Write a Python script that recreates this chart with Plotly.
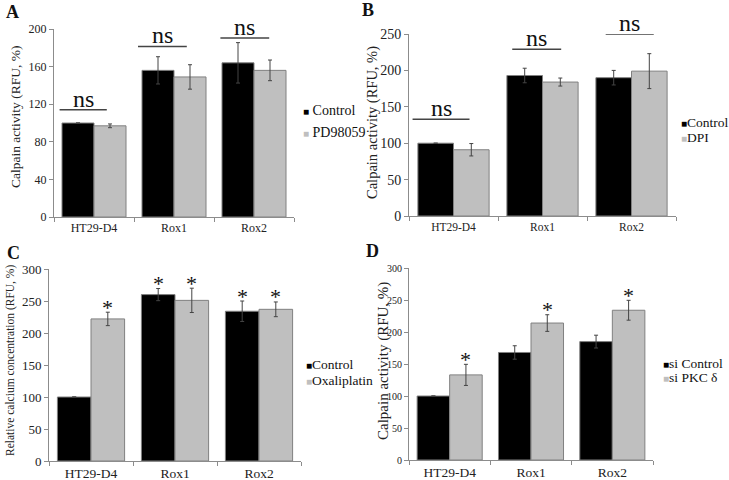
import plotly.graph_objects as go

categories = ["HT29-D4", "Rox1", "Rox2"]

# Panel A
a_control = [100, 156, 164]
a_control_err = [0, 14.5, 21.5]
a_treat = [97, 149, 156]
a_treat_err = [2, 13, 11]
a_ns_y = [114, 181.5, 190.5]
a_names = ["Control", "PD98059"]

# Panel B
b_control = [100, 193, 190]
b_control_err = [0, 10, 10]
b_treat = [91, 184, 199]
b_treat_err = [8.5, 5.5, 24]
b_ns_y = [133, 229, 250]
b_names = ["Control", "DPI"]

# Panel C
c_control = [100, 260, 234]
c_control_err = [0, 9.5, 16]
c_treat = [222, 251, 237]
c_treat_err = [10.5, 19, 11.5]
c_star_control = [False, True, True]
c_star_treat = [True, True, True]
c_names = ["Control", "Oxaliplatin"]

# Panel D
d_control = [100, 168, 185]
d_control_err = [0, 10.5, 10]
d_treat = [133, 214, 234]
d_treat_err = [16.5, 13, 15.5]
d_star_control = [False, False, False]
d_star_treat = [True, True, True]
d_names = ["si Control", "si PKC δ"]

W, H = 729, 480
FONT = "Liberation Serif"
BLACK = "#000000"
GREY = "#bfbfbf"
AXC = "#8c8c8c"


def px_x(p):
    return p / W


def px_y(p):
    return 1 - p / H


panels = [
    dict(key="", ctrl=a_control, ce=a_control_err, trt=a_treat, te=a_treat_err,
         names=a_names, dom=(54, 294, 29, 217), rng=[0, 200], dtick=40,
         title="Calpain activity (RFU, %)", tfs=13.5, tpos=(15, 117), tickfs=12, catfs=12,
         letter="A", lpos=(12, 12), leg=(301, 111, 21), legfs=14, sep=" "),
    dict(key="2", ctrl=b_control, ce=b_control_err, trt=b_treat, te=b_treat_err,
         names=b_names, dom=(409, 676, 34, 216), rng=[0, 250], dtick=50,
         title="Calpain activity (RFU, %)", tfs=14.5, tpos=(373, 123), tickfs=14, catfs=11.5,
         letter="B", lpos=(368, 10), leg=(679, 123, 14), legfs=13.5, sep=""),
    dict(key="3", ctrl=c_control, ce=c_control_err, trt=c_treat, te=c_treat_err,
         names=c_names, dom=(49, 301, 269, 461), rng=[0, 300], dtick=50,
         title="Relative calcium concentration (RFU, %)", tfs=11.5, tpos=(10, 361),
         tickfs=13, catfs=13.5,
         letter="C", lpos=(13, 253), leg=(304, 364, 16), legfs=13.5, sep=""),
    dict(key="4", ctrl=d_control, ce=d_control_err, trt=d_treat, te=d_treat_err,
         names=d_names, dom=(409, 653, 268, 460), rng=[0, 300], dtick=50,
         title="Calpain activity (RFU, %)", tfs=15, tpos=(383, 361), tickfs=10, catfs=13.5,
         letter="D", lpos=(372, 251), leg=(661, 363, 14), legfs=13.5, sep=""),
]

fig = go.Figure()
layout = dict(
    width=W, height=H, margin=dict(l=0, r=0, t=0, b=0),
    paper_bgcolor="white", plot_bgcolor="white",
    barmode="group", bargap=0.2, bargroupgap=0,
    showlegend=False, font=dict(family=FONT, color="#222"),
)
annotations = []
shapes = []

for p in panels:
    k = p["key"]
    xa, ya = "x" + k, "y" + k
    for vals, errs, name, col in [(p["ctrl"], p["ce"], p["names"][0], BLACK),
                                  (p["trt"], p["te"], p["names"][1], GREY)]:
        fig.add_trace(go.Bar(
            x=categories, y=vals, name=name, xaxis=xa, yaxis=ya,
            marker=dict(color=col, line=dict(color="#808080", width=1)),
            error_y=dict(type="data", array=errs, visible=True,
                         color="#444444", thickness=1, width=2),
        ))
    x0, x1, y0, y1 = p["dom"]
    layout["xaxis" + k] = dict(
        domain=[px_x(x0), px_x(x1)], anchor=ya, type="category", automargin=False,
        range=[-0.5, 2.5], showline=True, linecolor=AXC, linewidth=1,
        ticks="outside", tickson="boundaries", ticklen=4, tickcolor=AXC,
        showgrid=False, zeroline=False,
        tickfont=dict(family=FONT, size=p["catfs"], color="#222"),
    )
    layout["yaxis" + k] = dict(
        domain=[px_y(y1), px_y(y0)], anchor=xa, range=p["rng"], dtick=p["dtick"],
        automargin=False,
        showline=True, linecolor=AXC, linewidth=1, ticks="outside", ticklen=4,
        tickcolor=AXC, showgrid=False, zeroline=False,
        tickfont=dict(family=FONT, size=p["tickfs"], color="#222"),
    )
    # y-axis title
    annotations.append(dict(
        text=p["title"], x=px_x(p["tpos"][0]), y=px_y(p["tpos"][1]),
        xref="paper", yref="paper", showarrow=False, textangle=-90,
        xanchor="center", yanchor="middle",
        font=dict(family=FONT, size=p["tfs"], color="#222"),
    ))
    # panel letter
    annotations.append(dict(
        text="<b>%s</b>" % p["letter"], x=px_x(p["lpos"][0]), y=px_y(p["lpos"][1]),
        xref="paper", yref="paper", showarrow=False, xanchor="center", yanchor="middle",
        font=dict(family=FONT, size=18, color="#111"),
    ))
    # legend entries
    lx, ly, gap = p["leg"]
    for i, (name, col) in enumerate(zip(p["names"], [BLACK, GREY])):
        annotations.append(dict(
            text="<span style='color:%s;font-size:10px'>■</span>%s%s" % (col, p["sep"], name),
            x=px_x(lx), y=px_y(ly + i * gap), xref="paper", yref="paper",
            showarrow=False, xanchor="left", yanchor="middle",
            font=dict(family=FONT, size=p["legfs"], color="#111"),
        ))

# ns annotations (panels A and B)
ns_spans = {
    "": [(-0.43, 0.16), (-0.45, 0.16), (-0.42, 0.19)],
    "2": [(-0.46, 0.18), (-0.34, 0.21), (-0.29, 0.25)],
}
for k, ys in [("", a_ns_y), ("2", b_ns_y)]:
    for i, yv in enumerate(ys):
        s0, s1 = ns_spans[k][i]
        shapes.append(dict(type="line", xref="x" + k, yref="y" + k,
                           x0=i + s0, x1=i + s1, y0=yv, y1=yv,
                           line=dict(color="#444444", width=1.5)))
        annotations.append(dict(
            text="ns", x=i + (s0 + s1) / 2, y=yv, xref="x" + k, yref="y" + k,
            showarrow=False, yanchor="bottom", yshift=-4,
            font=dict(family=FONT, size=24, color="#111"),
        ))

# asterisks (panels C and D)
for k, ctrl, ce, trt, te, sc, st in [
        ("3", c_control, c_control_err, c_treat, c_treat_err, c_star_control, c_star_treat),
        ("4", d_control, d_control_err, d_treat, d_treat_err, d_star_control, d_star_treat)]:
    for i in range(len(categories)):
        for flag, v, e, off in [(sc[i], ctrl[i], ce[i], -0.2), (st[i], trt[i], te[i], 0.2)]:
            if flag:
                annotations.append(dict(
                    text="*", x=i + off, y=v + e, xref="x" + k, yref="y" + k,
                    showarrow=False, yanchor="middle", yshift=5,
                    font=dict(family=FONT, size=22, color="#111"),
                ))

layout["annotations"] = annotations
layout["shapes"] = shapes
fig.update_layout(**layout)
fig.write_html(
    "out.html",
    config={"displayModeBar": False},
    post_script="document.body.style.margin='0';document.body.style.padding='0';",
)
